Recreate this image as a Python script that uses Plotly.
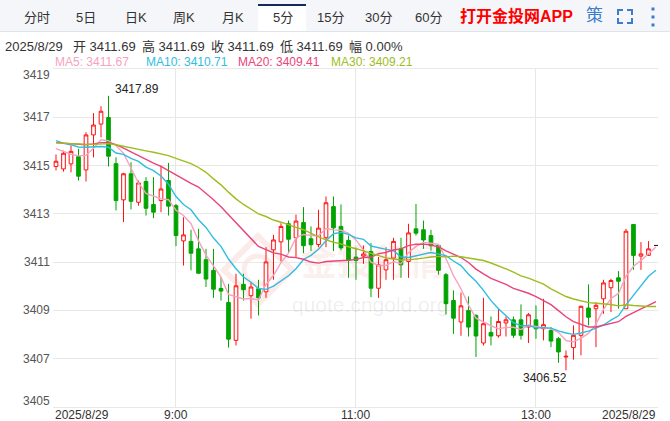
import plotly.graph_objects as go

# ---------------- data ----------------
times = ["07:40", "07:45", "07:50", "07:55",
         "08:00", "08:05", "08:10", "08:15", "08:20", "08:25", "08:30", "08:35", "08:40", "08:45", "08:50", "08:55",
         "09:00", "09:05", "09:10", "09:15", "09:20", "09:25", "09:30", "09:35", "09:40", "09:45", "09:50", "09:55",
         "10:00", "10:05", "10:10", "10:15", "10:20", "10:25", "10:30", "10:35", "10:40", "10:45", "10:50", "10:55",
         "11:00", "11:05", "11:10", "11:15", "11:20", "11:25", "11:30", "11:35", "11:40", "11:45", "11:50", "11:55",
         "12:00", "12:05", "12:10", "12:15", "12:20", "12:25", "12:30", "12:35", "12:40", "12:45", "12:50", "12:55",
         "13:00", "13:05", "13:10", "13:15", "13:20", "13:25", "13:30", "13:35", "13:40", "13:45", "13:50", "13:55",
         "14:00", "14:05", "14:10", "14:15", "14:20"]

opens = [3414.96, 3414.86, 3415.07, 3415.37, 3414.82, 3416.27, 3416.72, 3416.99, 3415.08, 3413.58,
         3414.66, 3413.48, 3414.34, 3413.39, 3413.55, 3414.38, 3413.34, 3411.88, 3411.86, 3411.55,
         3411.10, 3410.66, 3409.91, 3409.33, 3407.76, 3410.08, 3409.61, 3409.90, 3409.77, 3411.51,
         3411.84, 3412.59, 3412.01, 3412.64, 3411.97, 3411.73, 3412.01, 3413.30, 3412.48, 3411.90,
         3411.21, 3411.25, 3411.44, 3409.92, 3410.68, 3411.17, 3411.55, 3411.03, 3412.38, 3412.34,
         3412.10, 3411.69, 3410.48, 3409.41, 3408.52, 3409.00, 3408.79, 3407.65, 3408.09, 3407.95,
         3408.48, 3408.61, 3408.61, 3408.31, 3408.61, 3408.24, 3408.17, 3407.83, 3407.07, 3407.46,
         3407.97, 3409.10, 3409.07, 3409.48, 3409.94, 3410.35, 3409.07, 3412.56, 3411.25, 3411.28,
         3411.69]
highs = [3415.46, 3415.62, 3415.83, 3415.69, 3416.38, 3417.17, 3417.46, 3417.89, 3415.34, 3414.70,
         3415.14, 3414.38, 3414.52, 3414.52, 3415.00, 3415.11, 3413.41, 3412.86, 3412.34, 3412.38,
         3411.55, 3411.55, 3410.38, 3410.10, 3410.52, 3410.52, 3410.17, 3410.27, 3411.62, 3412.13,
         3412.61, 3412.72, 3412.97, 3413.28, 3412.48, 3413.17, 3413.72, 3413.72, 3413.39, 3412.10,
         3411.60, 3411.69, 3411.79, 3411.21, 3411.62, 3412.01, 3412.01, 3412.59, 3413.41, 3412.72,
         3412.34, 3411.75, 3410.55, 3409.83, 3409.74, 3409.58, 3408.85, 3409.52, 3408.75, 3409.07,
         3408.75, 3408.75, 3409.25, 3408.89, 3409.21, 3409.48, 3408.31, 3407.90, 3407.34, 3408.38,
         3409.20, 3410.08, 3409.34, 3410.27, 3410.31, 3410.63, 3412.38, 3412.56, 3411.83, 3411.87,
         3411.69]
lows = [3414.80, 3414.75, 3414.72, 3414.38, 3414.34, 3415.34, 3416.17, 3414.96, 3413.14, 3412.66,
        3413.18, 3413.34, 3412.93, 3412.82, 3413.07, 3412.93, 3411.66, 3410.86, 3410.66, 3410.54,
        3409.97, 3409.52, 3409.41, 3407.46, 3407.55, 3409.41, 3408.66, 3408.79, 3409.52, 3410.27,
        3411.03, 3411.37, 3411.21, 3411.37, 3411.46, 3411.62, 3411.62, 3411.46, 3411.48, 3410.35,
        3410.27, 3410.93, 3409.55, 3409.52, 3410.27, 3410.27, 3410.35, 3410.35, 3412.10, 3411.55,
        3411.48, 3410.48, 3408.83, 3408.03, 3407.95, 3407.92, 3407.07, 3407.55, 3407.55, 3407.87,
        3407.92, 3407.86, 3407.79, 3407.65, 3407.83, 3407.76, 3407.48, 3406.83, 3406.52, 3406.96,
        3407.14, 3408.38, 3407.48, 3408.86, 3408.93, 3409.07, 3409.07, 3410.68, 3410.68, 3411.34,
        3411.69]
closes = [3415.18, 3415.51, 3415.59, 3414.56, 3416.27, 3416.68, 3417.25, 3415.39, 3413.55, 3414.66,
          3413.52, 3414.28, 3413.23, 3413.07, 3414.03, 3413.32, 3412.10, 3412.13, 3411.37, 3410.54,
          3410.30, 3409.88, 3409.80, 3407.81, 3410.02, 3409.86, 3409.97, 3409.52, 3411.01, 3411.92,
          3412.48, 3411.95, 3412.70, 3411.68, 3411.72, 3412.41, 3413.46, 3412.42, 3411.59, 3411.07,
          3411.07, 3411.34, 3409.92, 3410.89, 3411.10, 3411.86, 3410.89, 3412.21, 3412.20, 3411.92,
          3411.68, 3410.66, 3409.28, 3408.68, 3409.19, 3408.31, 3407.94, 3408.45, 3407.94, 3408.54,
          3408.61, 3407.97, 3407.97, 3408.82, 3408.24, 3408.41, 3407.73, 3407.28, 3407.10, 3407.97,
          3409.17, 3408.72, 3409.21, 3410.14, 3410.24, 3410.21, 3412.28, 3411.28, 3411.34, 3411.55,
          3411.69]

# moving-average values at the left edge (their windows start before the visible data)
ma5_head = [3415.70, 3415.58, 3415.47, 3415.40]
ma10_head = [3416.03, 3415.92, 3415.86, 3415.77, 3415.76, 3415.78, 3415.79, 3415.76, 3415.52]
ma20_head = [3415.95, 3415.92, 3415.89, 3415.86, 3415.86, 3415.90, 3415.95, 3415.95, 3415.87, 3415.72,
             3415.56, 3415.39, 3415.23, 3415.10, 3414.97, 3414.79, 3414.60, 3414.42, 3414.26]
ma30_head = [3415.94, 3415.92, 3415.90, 3415.88, 3415.88, 3415.88, 3415.90, 3415.91, 3415.86, 3415.79,
             3415.72, 3415.66, 3415.61, 3415.55, 3415.48, 3415.41, 3415.30, 3415.18, 3415.08, 3414.92,
             3414.72, 3414.45, 3414.20, 3413.90, 3413.62, 3413.39, 3413.18, 3413.00, 3412.89]

ma_names = ["MA5", "MA10", "MA20", "MA30"]
ma_periods = [5, 10, 20, 30]
ma_legend_values = ["3411.67", "3410.71", "3409.41", "3409.21"]

y_ticks = [3405, 3407, 3409, 3411, 3413, 3415, 3417, 3419]
x_ticks = ["09:00", "11:00", "13:00"]
x_tick_text = ["9:00", "11:00", "13:00"]
date_label = "2025/8/29"
info_items = [("开", "3411.69"), ("高", "3411.69"), ("收", "3411.69"), ("低", "3411.69"), ("幅", "0.00%")]
tabs = ["分时", "5日", "日K", "周K", "月K", "5分", "15分", "30分", "60分"]
max_label = "3417.89"
min_label = "3406.52"

# ---------------- styling ----------------
FONT = "Arial, 'Liberation Sans', 'Noto Sans CJK SC', sans-serif"
RED = "#ff1010"
GREEN = "#00a400"
MA_COLORS = ["#f7a2c0", "#2fbde0", "#e9447a", "#9dbd1e"]
GRID = "#e8e8e8"

W, H = 670, 421
L, R, T, B = 53, 658, 69, 407


def px(x):
    return (x - L) / (R - L)


def py(y):
    return (B - y) / (B - T)


def moving_average(vals, n, head):
    out = list(head)
    for i in range(len(head), len(vals)):
        win = vals[i - n + 1:i + 1]
        out.append(round(sum(win) / n, 3))
    return out


fig = go.Figure()

n_main = len(times) - 1
fig.add_trace(go.Candlestick(
    x=times[:n_main], open=opens[:n_main], high=highs[:n_main], low=lows[:n_main], close=closes[:n_main],
    increasing=dict(line=dict(color=RED, width=1), fillcolor="white"),
    decreasing=dict(line=dict(color=GREEN, width=1), fillcolor=GREEN),
    whiskerwidth=0, hoverinfo="skip", showlegend=False,
))
# last (flat) candle
fig.add_trace(go.Candlestick(
    x=times[n_main:], open=opens[n_main:], high=highs[n_main:], low=lows[n_main:], close=closes[n_main:],
    increasing=dict(line=dict(color="#222222", width=1), fillcolor="#222222"),
    decreasing=dict(line=dict(color="#222222", width=1), fillcolor="#222222"),
    whiskerwidth=0, hoverinfo="skip", showlegend=False,
))

heads = [ma5_head, ma10_head, ma20_head, ma30_head]
for name, n, head, col in zip(ma_names, ma_periods, heads, MA_COLORS):
    fig.add_trace(go.Scatter(x=times, y=moving_average(closes, n, head), mode="lines",
                             line=dict(color=col, width=1.4), name=name, hoverinfo="skip"))

shapes = []
annotations = []

# top tab bar
shapes.append(dict(type="rect", xref="paper", yref="paper", x0=px(0), x1=px(W), y0=py(31.5), y1=py(0),
                   fillcolor="#f4f6f9", line=dict(width=0), layer="below"))
shapes.append(dict(type="line", xref="paper", yref="paper", x0=px(0), x1=px(W), y0=py(31.5), y1=py(31.5),
                   line=dict(color="#dfe4ea", width=1)))
shapes.append(dict(type="rect", xref="paper", yref="paper", x0=px(258), x1=px(306), y0=py(32), y1=py(4),
                   fillcolor="white", line=dict(width=0), layer="below"))
shapes.append(dict(type="line", xref="paper", yref="paper", x0=px(258), x1=px(306), y0=py(5), y1=py(5),
                   line=dict(color="#152a5c", width=2)))

tab_x = [37, 86, 136, 184, 233, 283, 330, 378, 428]
for t, xc in zip(tabs, tab_x):
    annotations.append(dict(text=t, xref="paper", yref="paper", x=px(xc), y=py(17), xanchor="center",
                            yanchor="middle", showarrow=False, font=dict(size=13, color="#333333", family=FONT)))
annotations.append(dict(text="<b>打开金投网APP</b>", xref="paper", yref="paper", x=px(516), y=py(16),
                        xanchor="center", yanchor="middle", showarrow=False,
                        font=dict(size=16, color="#ff0000", family=FONT)))
annotations.append(dict(text="策", xref="paper", yref="paper", x=px(594), y=py(16), xanchor="center",
                        yanchor="middle", showarrow=False, font=dict(size=17, color="#3d7ccc", family=FONT)))
# fullscreen icon
ICON = "#3d7ccc"
x0i, x1i, y0i, y1i, c = 618, 632, 10, 23, 5
for path in [f"M{x0i},{y0i + c} L{x0i},{y0i} L{x0i + c},{y0i}",
             f"M{x1i - c},{y0i} L{x1i},{y0i} L{x1i},{y0i + c}",
             f"M{x0i},{y1i - c} L{x0i},{y1i} L{x0i + c},{y1i}",
             f"M{x1i - c},{y1i} L{x1i},{y1i} L{x1i},{y1i - c}"]:
    pts = []
    for seg in path.split(" "):
        xx, yy = seg[1:].split(",")
        pts.append(f"{seg[0]}{px(float(xx))},{py(float(yy))}")
    shapes.append(dict(type="path", xref="paper", yref="paper", path=" ".join(pts),
                       line=dict(color=ICON, width=2)))
for yd in [9, 17, 25]:
    shapes.append(dict(type="rect", xref="paper", yref="paper", x0=px(651.5), x1=px(654.5),
                       y0=py(yd + 1.5), y1=py(yd - 1.5), fillcolor=ICON, line=dict(width=0)))

# info line
annotations.append(dict(text=date_label, xref="paper", yref="paper", x=px(3), y=py(46.5), xanchor="left",
                        yanchor="middle", showarrow=False, font=dict(size=13, color="#333333", family=FONT)))
for (k, v), xl in zip(info_items, [71, 140, 209, 278, 347]):
    annotations.append(dict(text=f"{k} {v}", xref="paper", yref="paper", x=px(xl), y=py(46.5), xanchor="left",
                            yanchor="middle", showarrow=False, font=dict(size=13, color="#333333", family=FONT)))

# MA legend
for name, val, col, xl in zip(ma_names, ma_legend_values, MA_COLORS, [53, 144, 236, 329]):
    annotations.append(dict(text=f"{name}: {val}", xref="paper", yref="paper", x=px(xl), y=py(62),
                            xanchor="left", yanchor="middle", showarrow=False,
                            font=dict(size=12, color=col, family=FONT)))

# y tick labels
for v in y_ticks:
    shift = 0
    if v == y_ticks[-1]:
        shift = -6
    elif v == y_ticks[0]:
        shift = 6
    annotations.append(dict(text=str(v), xref="paper", yref="y", x=0, y=v, xanchor="right", yanchor="middle",
                            xshift=-1, yshift=shift, showarrow=False,
                            font=dict(size=12, color="#555555", family=FONT)))

# x tick labels
for tv, tt in zip(x_ticks, x_tick_text):
    annotations.append(dict(text=tt, xref="x", yref="paper", x=tv, y=py(414.5), xanchor="center",
                            yanchor="middle", showarrow=False, font=dict(size=12, color="#333333", family=FONT)))

# date labels at both ends of x axis
annotations.append(dict(text=date_label, xref="paper", yref="paper", x=0, y=py(414.5), xanchor="left",
                        yanchor="middle", showarrow=False, font=dict(size=12, color="#333333", family=FONT)))
annotations.append(dict(text=date_label, xref="paper", yref="paper", x=px(658), y=py(414.5), xanchor="right",
                        yanchor="middle", showarrow=False, font=dict(size=12, color="#333333", family=FONT)))

# max / min labels
i_max = highs.index(max(highs))
i_min = lows.index(min(lows))
annotations.append(dict(text=max_label, x=times[i_max], y=highs[i_max], xref="x", yref="y", xanchor="left",
                        yanchor="middle", xshift=4, yshift=7, showarrow=False,
                        font=dict(size=12, color="#222222", family=FONT)))
annotations.append(dict(text=min_label, x=times[i_min], y=lows[i_min], xref="x", yref="y", xanchor="right",
                        yanchor="middle", xshift=3, yshift=-8, showarrow=False,
                        font=dict(size=12, color="#222222", family=FONT)))

# watermark
annotations.append(dict(text="<b>金投行情</b>", xref="paper", yref="paper", x=px(373), y=py(262),
                        xanchor="center", yanchor="middle", showarrow=False,
                        font=dict(size=36, color="rgba(225,100,80,0.10)", family=FONT)))
annotations.append(dict(text="quote.cngold.org", xref="paper", yref="paper", x=px(370), y=py(304),
                        xanchor="center", yanchor="middle", showarrow=False,
                        font=dict(size=21, color="rgba(0,0,0,0.08)", family=FONT)))
shapes.append(dict(type="path", xref="paper", yref="paper", layer="below",
                   path=f"M{px(258)},{py(236)} L{px(292)},{py(270)} L{px(258)},{py(304)} L{px(224)},{py(270)} Z",
                   line=dict(color="rgba(225,100,80,0.12)", width=6)))
shapes.append(dict(type="circle", xref="paper", yref="paper", layer="below",
                   x0=px(244), x1=px(272), y0=py(284), y1=py(256),
                   line=dict(color="rgba(225,100,80,0.12)", width=5)))

fig.update_layout(
    width=W, height=H,
    margin=dict(l=L, r=W - R, t=T, b=H - B, autoexpand=False),
    paper_bgcolor="white", plot_bgcolor="white",
    showlegend=False,
    font=dict(family=FONT),
    shapes=shapes, annotations=annotations,
    xaxis=dict(type="category", range=[-0.4, len(times) - 1 + 0.27], tickmode="array", tickvals=x_ticks,
               showticklabels=False, showgrid=True, gridcolor=GRID, gridwidth=1, ticks="", zeroline=False,
               showline=True, linecolor=GRID, mirror=True, rangeslider=dict(visible=False),
               automargin=False, fixedrange=True),
    yaxis=dict(range=[3405, 3419], tickmode="array", tickvals=y_ticks, showticklabels=False,
               automargin=False,
               showgrid=True, gridcolor=GRID, gridwidth=1, zeroline=False, ticks="", fixedrange=True),
)

fig.write_html("out.html", config={"displayModeBar": False},
               post_script="document.body.style.margin='0';document.body.style.padding='0';")
